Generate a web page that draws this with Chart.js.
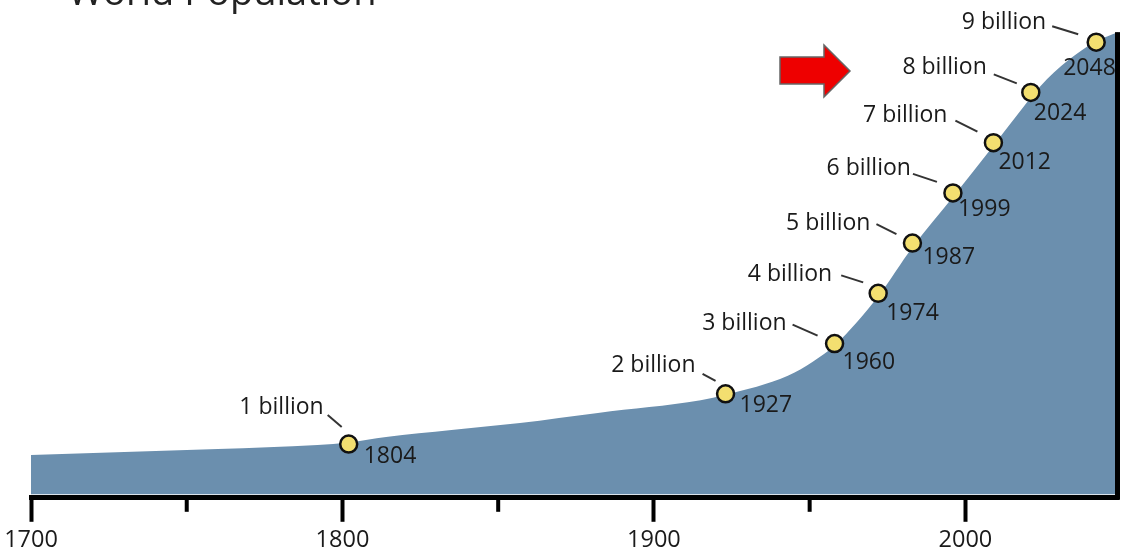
<!DOCTYPE html>
<html>
<head>
<meta charset="utf-8">
<script src="https://cdn.jsdelivr.net/npm/chart.js@4"></script>
<style>
  html, body { margin: 0; padding: 0; background: #fff; }
  #wrap { width: 1129px; height: 550px; }
</style>
</head>
<body>
<div id="wrap"><canvas id="popChart"></canvas></div>
<script>
// population curve (billions)
const curveYears = [1700, 1760, 1792, 1802, 1814, 1835, 1857, 1882, 1915, 1923, 1943, 1951, 1958, 1972, 1983, 1996, 2009, 2016, 2024, 2033, 2042, 2049];
const curvePopulation = [0.78, 0.9, 0.98, 1.03, 1.14, 1.28, 1.42, 1.62, 1.87, 1.98, 2.36, 2.64, 2.96, 3.94, 4.92, 5.92, 6.94, 7.5, 8.12, 8.64, 9.02, 9.2];

// milestone markers (x where the dot sits, value, labels)
const milestoneX = [1802, 1923, 1958, 1972, 1983, 1996, 2009, 2021, 2042];
const milestonePopulation = [1, 2, 3, 4, 5, 6, 7, 8, 9];
const milestoneYears = ['1804', '1927', '1960', '1974', '1987', '1999', '2012', '2024', '2048'];
const milestoneNames = ['1 billion', '2 billion', '3 billion', '4 billion', '5 billion', '6 billion', '7 billion', '8 billion', '9 billion'];

const tickYears = [1700, 1750, 1800, 1850, 1900, 1950, 2000];

// where each label sits around its dot (px offsets)
const labelLayout = [
    { nx: -25, ny: -37, lx1: -21, ly1: -29, lx2: -7, ly2: -17, yx: 15, yy: 12 },
    { nx: -30, ny: -28, lx1: -23, ly1: -20, lx2: -10, ly2: -13, yx: 14, yy: 12 },
    { nx: -48, ny: -20, lx1: -42, ly1: -19, lx2: -17, ly2: -8, yx: 8, yy: 19 },
    { nx: -46, ny: -19, lx1: -37, ly1: -18, lx2: -15, ly2: -11, yx: 8, yy: 20 },
    { nx: -42, ny: -20, lx1: -36, ly1: -19, lx2: -16, ly2: -9, yx: 10, yy: 14 },
    { nx: -42, ny: -24, lx1: -40, ly1: -19, lx2: -16, ly2: -11, yx: 5, yy: 17 },
    { nx: -46, ny: -27, lx1: -38, ly1: -22, lx2: -16, ly2: -11, yx: 5, yy: 20 },
    { nx: -44, ny: -25, lx1: -37, ly1: -18, lx2: -14, ly2: -9, yx: 3, yy: 21 },
    { nx: -50, ny: -20, lx1: -44, ly1: -16, lx2: -18, ly2: -8, yx: -33, yy: 26 },
];

const FONT = '"Open Sans", "DejaVu Sans", sans-serif';

const decorations = {
    id: 'decorations',
    afterDatasetsDraw(chart) {
        const ctx = chart.ctx;
        const xs = chart.scales.x;
        const ys = chart.scales.y;
        const area = chart.chartArea;
        ctx.save();

        // right edge bar
        const rx = xs.getPixelForValue(curveYears[curveYears.length - 1]);
        const topY = ys.getPixelForValue(curvePopulation[curvePopulation.length - 1]);
        ctx.fillStyle = '#000';
        ctx.fillRect(rx - 3, topY, 5, area.bottom - topY + 2);

        // minor ticks
        tickYears.forEach(v => {
            if (v % 100 !== 0) {
                const px = xs.getPixelForValue(v);
                ctx.fillRect(px - 2, area.bottom, 4, 14);
            }
        });

        // milestone labels
        const meta = chart.getDatasetMeta(1);
        ctx.font = '23px ' + FONT;
        ctx.fillStyle = '#1a1a1a';
        ctx.strokeStyle = '#333';
        ctx.lineWidth = 2;
        meta.data.forEach((pt, i) => {
            const L = labelLayout[i];
            ctx.textBaseline = 'middle';
            ctx.textAlign = 'right';
            ctx.fillText(milestoneNames[i], pt.x + L.nx, pt.y + L.ny);
            ctx.beginPath();
            ctx.moveTo(pt.x + L.lx1, pt.y + L.ly1);
            ctx.lineTo(pt.x + L.lx2, pt.y + L.ly2);
            ctx.stroke();
            ctx.textAlign = 'left';
            ctx.fillText(milestoneYears[i], pt.x + L.yx, pt.y + L.yy);
        });
        ctx.restore();
    },
    afterDraw(chart) {
        const ctx = chart.ctx;
        ctx.save();
        // title, cut off at the top like the source
        ctx.font = '38px ' + FONT;
        ctx.fillStyle = '#222';
        ctx.textAlign = 'left';
        ctx.textBaseline = 'alphabetic';
        ctx.fillText('World Population', 68, 5);

        // red arrow
        ctx.beginPath();
        ctx.moveTo(780, 57);
        ctx.lineTo(824, 57);
        ctx.lineTo(824, 45);
        ctx.lineTo(850, 71);
        ctx.lineTo(824, 97);
        ctx.lineTo(824, 84);
        ctx.lineTo(780, 84);
        ctx.closePath();
        ctx.fillStyle = '#ee0000';
        ctx.fill();
        ctx.strokeStyle = '#666';
        ctx.lineWidth = 1.5;
        ctx.stroke();
        ctx.restore();
    }
};

const popChart = new Chart(document.getElementById('popChart').getContext('2d'), {
    type: 'line',
    data: {
        datasets: [
            {
                label: 'World population',
                data: curveYears.map((y, i) => ({ x: y, y: curvePopulation[i] })),
                backgroundColor: '#6b8fae',
                borderWidth: 0,
                pointRadius: 0,
                fill: 'origin',
                cubicInterpolationMode: 'monotone',
                order: 2,
            },
            {
                label: 'Milestones',
                data: milestoneX.map((y, i) => ({ x: y, y: milestonePopulation[i] })),
                showLine: false,
                pointRadius: 8.5,
                pointBackgroundColor: '#f3df70',
                pointBorderColor: '#111',
                pointBorderWidth: 2.5,
                order: 1,
            }
        ]
    },
    options: {
        responsive: true,
        maintainAspectRatio: false,
        animation: false,
        layout: {
            autoPadding: false,
            padding: { left: 31, right: 11, top: 0, bottom: -8 }
        },
        plugins: {
            legend: { display: false },
            tooltip: { enabled: false },
        },
        scales: {
            x: {
                type: 'linear',
                min: 1700,
                max: 2049,
                afterBuildTicks: scale => {
                    scale.ticks = tickYears.map(v => ({ value: v }));
                },
                border: { display: true, color: '#000', width: 5 },
                grid: {
                    drawOnChartArea: false,
                    drawTicks: true,
                    tickLength: 24,
                    tickWidth: 4,
                    tickColor: c => (c.tick && c.tick.value % 100 === 0) ? '#000' : 'rgba(0,0,0,0)',
                },
                ticks: {
                    padding: 4,
                    maxRotation: 0,
                    autoSkip: false,
                    color: '#1a1a1a',
                    font: { family: FONT, size: 23.5 },
                    callback: v => (v % 100 === 0 ? String(v) : ''),
                }
            },
            y: {
                display: false,
                min: -0.07,
                max: 9.84,
            }
        }
    },
    plugins: [decorations]
});
</script>
</body>
</html>
